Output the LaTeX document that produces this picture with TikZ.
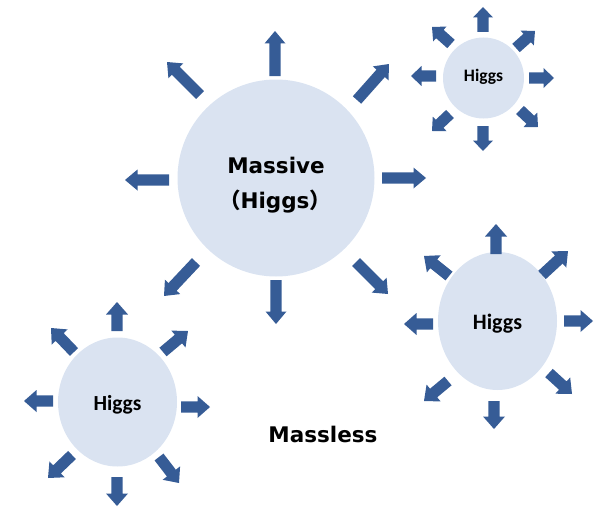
\documentclass[tikz,border=0pt]{standalone}
\usepackage{fontspec}
\newfontfamily\headfont{DejaVu Sans}
\newfontfamily\cjkfont{Noto Sans CJK JP}
\newfontfamily\labelfont{Carlito}
\usetikzlibrary{calc,shapes.geometric}

\definecolor{arrowblue}{HTML}{365C96}
\definecolor{ballfill}{HTML}{DAE3F1}

% block arrow from tail (#1,#2) to tip (#3,#4), coordinates in px, y downwards
\newcommand\blockarr[4]{%
  \pgfmathsetmacro\barang{atan2(-(#4-#2),#3-#1)}%
  \pgfmathsetmacro\barlen{veclen(#3-#1,#4-#2)}%
  \pgfmathsetmacro\barneck{\barlen-\barhead}%
  \fill[arrowblue, shift={(#1,#2)}, rotate=\barang]
    (0,-\barshaft) -- (\barneck,-\barshaft) -- (\barneck,-\barwing)
    -- (\barlen,0) -- (\barneck,\barwing) -- (\barneck,\barshaft)
    -- (0,\barshaft) -- cycle;%
}
\def\barshaft{5.6}
\def\barwing{10.5}
\def\barhead{12.5}

\tikzset{
  ball/.style={fill=ballfill, draw=none, inner sep=0pt},
  headtext/.style={font=\headfont\bfseries\fontsize{21.5}{26}\selectfont, text=black, anchor=base, inner sep=0pt},
  higgstext/.style={text=black},
}

\begin{document}
\begin{tikzpicture}[x=1pt, y=-1pt]
  \useasboundingbox (0,0) rectangle (594,511);

  % large particle
  \node[ball, circle, minimum size=197pt] (big) at (276,178) {};
  \node[headtext] (bigtop) at (276,173) {Massive};
  \node[headtext] (bigbottom) at (275,208) {{\cjkfont （}Higgs{\cjkfont ）}};
  \blockarr{275}{76}{275}{31}
  \blockarr{276}{280}{276}{324}
  \blockarr{382}{178}{426}{178}
  \blockarr{169}{180}{125}{180}
  \blockarr{357}{100}{389}{64}
  \blockarr{200}{95}{167}{62}
  \blockarr{196}{262}{164}{296}
  \blockarr{356}{262}{388}{294}

  % small particle, top right
  \node[ball, circle, minimum size=81pt] (tr) at (483.5,78) {};
  \node[higgstext, font=\labelfont\bfseries\fontsize{17.5}{21}\selectfont] (trtext) at (483.5,77) {Higgs};
  \def\barhead{10.5}
  \def\barwing{10}
  \blockarr{483}{32}{483}{7}
  \blockarr{529}{78}{554}{78}
  \blockarr{436}{76}{411}{76}
  \blockarr{483}{126}{483}{151}
  \blockarr{516}{48}{535}{31}
  \blockarr{451}{44}{432}{27}
  \blockarr{450}{114}{432}{131}
  \blockarr{520}{110}{538}{127}

  % ellipse, middle right
  \node[ball, ellipse, minimum width=119pt, minimum height=138pt] (mr) at (497.5,321) {};
  \node[higgstext, font=\labelfont\bfseries\fontsize{22}{26}\selectfont] (mrtext) at (497.5,324) {Higgs};
  \def\barhead{12.5}
  \def\barwing{11}
  \blockarr{496}{254}{496}{224}
  \blockarr{564}{321}{593}{321}
  \blockarr{433}{324}{404}{324}
  \blockarr{494}{401}{494}{429}
  \blockarr{542}{275}{568}{251}
  \blockarr{449}{276}{424}{256}
  \blockarr{448}{381}{424}{401}
  \blockarr{549}{373}{572}{394}

  % ellipse, bottom left
  \node[ball, ellipse, minimum width=119pt, minimum height=129pt] (bl) at (117.5,402) {};
  \node[higgstext, font=\labelfont\bfseries\fontsize{21.5}{25}\selectfont] (bltext) at (117.5,405) {Higgs};
  \blockarr{117}{331}{117}{302}
  \blockarr{181}{407}{210}{407}
  \blockarr{53}{401}{24}{401}
  \blockarr{117}{477}{117}{506}
  \blockarr{163}{352}{188}{331}
  \blockarr{74}{352}{51}{328}
  \blockarr{72}{455}{48}{478}
  \blockarr{159}{457}{179}{483}

  % label for the empty space
  \node[headtext] (massless) at (323,442) {Massless};
\end{tikzpicture}
\end{document}
